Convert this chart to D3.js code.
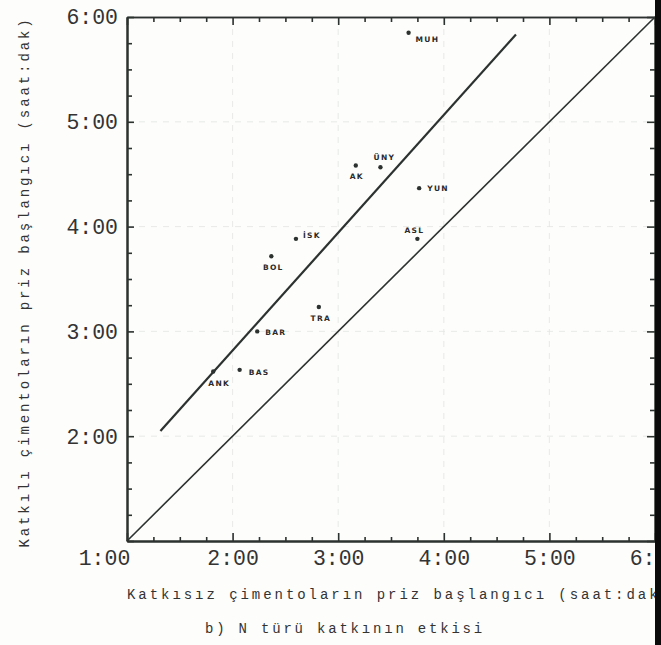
<!DOCTYPE html>
<html>
<head>
<meta charset="utf-8">
<script src="https://cdn.jsdelivr.net/npm/d3@7"></script>
<style>
  html, body { margin: 0; padding: 0; background: #fdfdfc; }
  svg { display: block; }
</style>
</head>
<body>
<svg id="chart" width="661" height="645"></svg>
<script>
// Cement plants (abbreviations)
const sites  = ["ANK", "BAS", "BAR", "TRA", "BOL", "İSK", "AK", "ÜNY", "YUN", "ASL", "MUH"];
// Initial setting time without admixture (minutes)
const plainSet = [109, 124, 134, 169, 142, 156, 190, 204, 226, 225, 220];
// Initial setting time with N-type admixture (minutes)
const dosedSet = [157, 158, 180, 194, 223, 233, 275, 274, 262, 233, 351];
// Fitted trend line end points (minutes)
const fitX = [79, 281];
const fitY = [123, 350];
// Equality line (minutes)
const eqX = [60, 360];
const eqY = [60, 360];
// Axis ticks (minutes)
const majorTicks = [60, 120, 180, 240, 300, 360];
const minorTicks = d3.range(60, 361, 15).filter(v => v % 60 !== 0);

// Label placement around each dot: [dx, dy, anchor]
const labelPlace = {
  "ANK": [6, 14, "middle"], "BAS": [9, 5, "start"], "BAR": [8, 4, "start"],
  "TRA": [2, 14, "middle"], "BOL": [2, 14, "middle"], "İSK": [7, -1, "start"],
  "AK": [1, 14, "middle"], "ÜNY": [4, -7, "middle"], "YUN": [8, 3, "start"],
  "ASL": [-3, -6, "middle"], "MUH": [7, 9, "start"]
};

const ink = "#2c322f";
const fmt = m => Math.floor(m / 60) + ":" + String(m % 60).padStart(2, "0");

const svg = d3.select("#chart");
const x = d3.scaleLinear().domain([60, 360]).range([127, 655]);
const y = d3.scaleLinear().domain([60, 360]).range([541, 17]);

// very faint dashed grid
const grid = svg.append("g").attr("stroke", "#aab2ad").attr("stroke-width", 0.8)
  .attr("stroke-dasharray", "6,6").attr("opacity", 0.3);
grid.selectAll("line.v").data(majorTicks.slice(1, -1)).join("line")
  .attr("x1", d => x(d)).attr("x2", d => x(d)).attr("y1", y(360)).attr("y2", y(60));
grid.selectAll("line.h").data(majorTicks.slice(1, -1)).join("line")
  .attr("y1", d => y(d)).attr("y2", d => y(d)).attr("x1", x(60)).attr("x2", x(360));

// frame axes
function frameAxis(axis, tf) {
  const g = svg.append("g").attr("transform", tf).call(axis);
  g.selectAll("path, line").attr("stroke", ink);
  g.select("path.domain").attr("stroke-width", 2);
  g.selectAll(".tick line").attr("stroke-width", 1.6);
  return g;
}
const noLabel = () => "";

// bottom axis with labels
const bottom = frameAxis(d3.axisBottom(x).tickValues(majorTicks).tickSize(-8).tickSizeOuter(0)
  .tickPadding(9).tickFormat(fmt), `translate(0,${y(60)})`);
bottom.selectAll("text")
  .attr("font-family", "Liberation Mono, DejaVu Sans Mono, monospace")
  .attr("font-size", 21.5).attr("fill", "#333").attr("dy", "0.72em")
  .attr("dx", d => d === 60 ? -23 : 0);
frameAxis(d3.axisBottom(x).tickValues(minorTicks).tickSize(-4).tickSizeOuter(0).tickFormat(noLabel),
  `translate(0,${y(60)})`);

// left axis with labels
const left = frameAxis(d3.axisLeft(y).tickValues(majorTicks).tickSize(-7).tickSizeOuter(0)
  .tickPadding(9).tickFormat(fmt), `translate(${x(60)},0)`);
left.selectAll("text")
  .attr("font-family", "Liberation Mono, DejaVu Sans Mono, monospace")
  .attr("font-size", 21.5).attr("fill", "#333");
left.selectAll(".tick").filter(d => d === 60).select("text").remove();
frameAxis(d3.axisLeft(y).tickValues(minorTicks).tickSize(-5).tickSizeOuter(0).tickFormat(noLabel),
  `translate(${x(60)},0)`);

// top and right frame
frameAxis(d3.axisTop(x).tickValues(majorTicks).tickSize(-8).tickSizeOuter(0).tickFormat(noLabel),
  `translate(0,${y(360)})`).select("path.domain").attr("stroke-width", 1.6);
frameAxis(d3.axisTop(x).tickValues(minorTicks).tickSize(-5).tickSizeOuter(0).tickFormat(noLabel),
  `translate(0,${y(360)})`).select("path.domain").attr("stroke-width", 1.6);
frameAxis(d3.axisRight(y).tickValues(majorTicks).tickSize(-8).tickSizeOuter(0).tickFormat(noLabel),
  `translate(${x(360)},0)`);
frameAxis(d3.axisRight(y).tickValues(minorTicks).tickSize(-5).tickSizeOuter(0).tickFormat(noLabel),
  `translate(${x(360)},0)`);

// equality line and fitted trend line
const line = d3.line().x(d => x(d[0])).y(d => y(d[1]));
svg.append("path").attr("d", line(d3.zip(eqX, eqY)))
  .attr("fill", "none").attr("stroke", ink).attr("stroke-width", 1.6);
svg.append("path").attr("d", line(d3.zip(fitX, fitY)))
  .attr("fill", "none").attr("stroke", ink).attr("stroke-width", 2.2);

// plant points
const pts = d3.range(sites.length).map(i => ({ name: sites[i], px: plainSet[i], py: dosedSet[i] }));
svg.append("g").selectAll("circle").data(pts).join("circle")
  .attr("cx", d => x(d.px)).attr("cy", d => y(d.py)).attr("r", 2.2).attr("fill", ink);
svg.append("g").selectAll("text").data(pts).join("text")
  .attr("x", d => x(d.px) + labelPlace[d.name][0])
  .attr("y", d => y(d.py) + labelPlace[d.name][1])
  .attr("text-anchor", d => labelPlace[d.name][2])
  .attr("font-family", "DejaVu Sans, sans-serif").attr("font-weight", "bold")
  .attr("font-size", 7.5).attr("letter-spacing", 1.3).attr("fill", "#2a2a2a")
  .text(d => d.name);

// axis titles and caption
const titleFont = "Liberation Mono, DejaVu Sans Mono, monospace";
svg.append("text").attr("x", 127).attr("y", 599)
  .attr("font-family", titleFont).attr("font-size", 14).attr("letter-spacing", 2.95)
  .attr("fill", "#333").text("Katkısız çimentoların priz başlangıcı (saat:dak)");
svg.append("text").attr("transform", "translate(29,282) rotate(-90)")
  .attr("text-anchor", "middle")
  .attr("font-family", titleFont).attr("font-size", 14).attr("letter-spacing", 2.9)
  .attr("fill", "#333").text("Katkılı çimentoların priz başlangıcı (saat:dak)");
svg.append("text").attr("x", 345).attr("y", 633).attr("text-anchor", "middle")
  .attr("font-family", titleFont).attr("font-size", 14).attr("letter-spacing", 2.8)
  .attr("fill", "#333").text("b) N türü katkının etkisi");

// dark page edge on the right
svg.append("rect").attr("x", 655).attr("y", 0).attr("width", 6).attr("height", 645)
  .attr("fill", "#0b0b0b");
</script>
</body>
</html>
